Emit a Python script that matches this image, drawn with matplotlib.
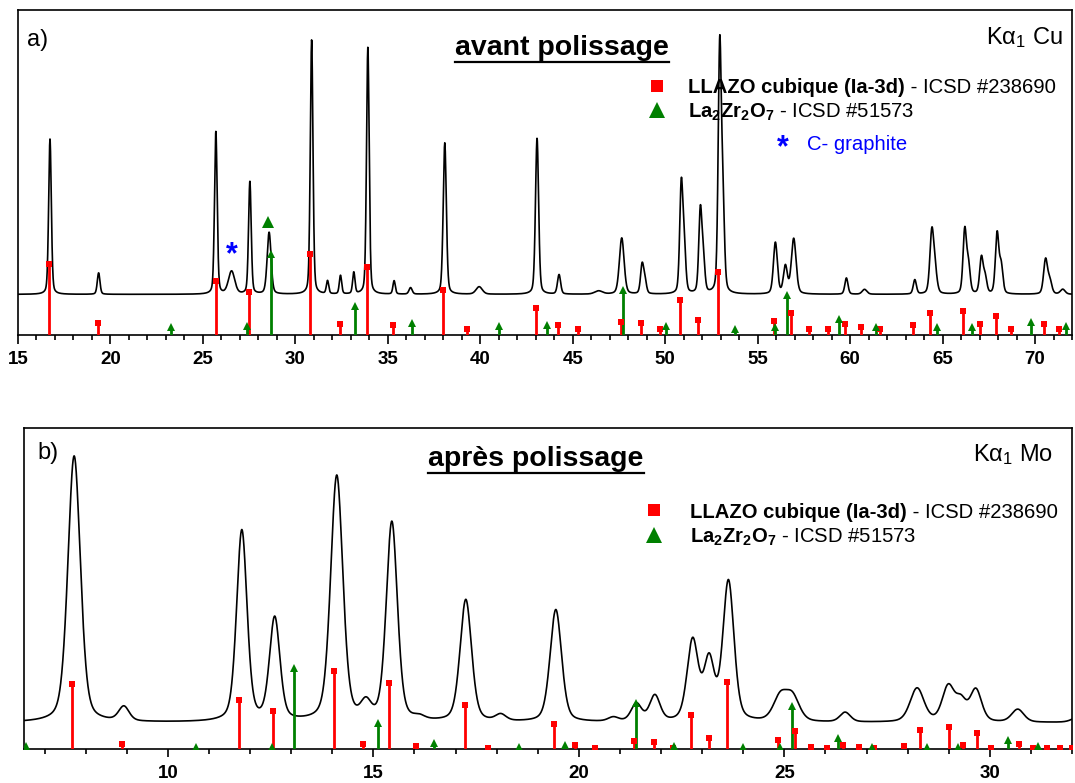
import numpy as np
import matplotlib
matplotlib.use("Agg")
import matplotlib.pyplot as plt
from matplotlib.lines import Line2D

plt.rcParams['font.family'] = ['Liberation Sans', 'DejaVu Sans']
plt.rcParams['mathtext.fontset'] = 'custom'
plt.rcParams['mathtext.rm'] = 'Liberation Sans'
plt.rcParams['mathtext.bf'] = 'Liberation Sans:bold'
plt.rcParams['mathtext.it'] = 'Liberation Sans:italic'

# ---------------- data : panel a (Cu K-alpha1) ----------------
a_baseline = 12.5
a_peak_pos = [16.73, 19.36, 25.70, 26.55, 27.54, 28.58, 30.88, 31.74, 32.44, 33.16,
              33.92, 35.34, 36.23, 38.08, 39.94, 43.07, 44.26, 46.4, 47.65, 48.75,
              48.9, 50.87, 51.03, 51.90, 52.06, 52.95, 53.12, 55.96, 56.5, 56.95,
              59.8, 60.78, 63.5, 64.42, 64.6, 66.2, 66.4, 67.1, 67.3, 67.95,
              68.17, 70.57, 70.8, 71.5]
a_peak_h = [47.8, 6.6, 50.0, 7.0, 34.6, 19.0, 78.3, 4.0, 5.7, 6.6,
            76.0, 4.1, 2.0, 46.6, 2.3, 48.0, 6.0, 1.0, 17.3, 8.7,
            4.0, 33.0, 13.0, 25.0, 10.0, 75.0, 26.0, 15.8, 8.4, 17.0,
            5.0, 1.5, 4.4, 19.0, 6.0, 19.5, 8.5, 11.0, 5.0, 18.5,
            8.5, 10.6, 4.0, 1.5]
a_peak_w = [0.17, 0.17, 0.17, 0.40, 0.17, 0.25, 0.17, 0.15, 0.15, 0.15,
            0.17, 0.15, 0.20, 0.20, 0.40, 0.20, 0.20, 0.50, 0.30, 0.20,
            0.20, 0.20, 0.20, 0.20, 0.20, 0.20, 0.20, 0.25, 0.25, 0.30,
            0.20, 0.30, 0.20, 0.25, 0.25, 0.22, 0.22, 0.22, 0.22, 0.22,
            0.22, 0.25, 0.25, 0.30]

a_llzo_pos = [16.7, 19.3, 25.7, 27.5, 30.8, 32.4, 33.85, 35.3, 38.0, 39.3,
              43.0, 44.2, 45.3, 47.6, 48.7, 49.7, 50.8, 51.8, 52.85, 55.9,
              56.8, 57.8, 58.8, 59.7, 60.6, 61.6, 63.4, 64.3, 66.1, 67.0,
              67.9, 68.7, 70.5, 71.3]
a_llzo_h = [22.0, 3.7, 16.6, 13.3, 25.0, 3.4, 21.0, 3.0, 14.0, 2.0,
            8.3, 3.0, 2.0, 4.0, 3.7, 2.0, 10.8, 4.6, 19.5, 4.3,
            6.7, 2.0, 2.0, 3.4, 2.4, 2.0, 3.0, 6.7, 7.4, 3.4,
            5.8, 2.0, 3.4, 2.0]
a_lzo_pos = [23.3, 27.4, 28.66, 33.2, 36.3, 41.0, 43.6, 47.7, 50.06, 53.8,
             55.96, 56.6, 59.4, 61.4, 64.7, 66.6, 69.8, 71.7]
a_lzo_h = [2.5, 2.8, 25.0, 8.9, 3.8, 2.8, 3.0, 13.8, 2.8, 2.0,
           2.4, 12.3, 4.9, 2.5, 2.4, 2.5, 4.0, 2.8]

# ---------------- data : panel b (Mo K-alpha1) ----------------
b_baseline = 8.2
b_peak_pos = [7.72, 8.93, 11.80, 12.60, 14.11, 14.82, 15.45, 16.12, 17.25, 18.10,
              19.44, 20.84, 21.40, 21.85, 22.77, 23.17, 23.64, 24.90, 25.20, 26.48,
              28.23, 28.99, 29.30, 29.66, 30.68, 32.2]
b_peak_h = [83.0, 4.5, 59.5, 32.0, 76.5, 5.0, 62.0, 1.0, 38.0, 2.0,
            35.0, 1.3, 5.5, 8.0, 25.0, 18.5, 43.5, 7.5, 7.5, 3.0,
            10.5, 11.0, 6.0, 10.0, 4.0, 2.0]
b_peak_w = [0.36, 0.30, 0.30, 0.30, 0.35, 0.30, 0.32, 0.30, 0.33, 0.30,
            0.33, 0.30, 0.30, 0.30, 0.32, 0.30, 0.32, 0.40, 0.40, 0.30,
            0.40, 0.35, 0.30, 0.33, 0.35, 0.40]

b_llzo_pos = [7.68, 8.88, 11.73, 12.56, 14.04, 14.74, 15.39, 16.03, 17.22, 17.78,
              19.4, 19.9, 20.4, 21.34, 21.82, 22.28, 22.73, 23.17, 23.6, 24.85,
              25.26, 25.66, 26.04, 26.42, 26.81, 27.18, 27.91, 28.29, 29.0, 29.35,
              29.7, 30.04, 30.72, 31.06, 31.38, 31.7, 31.99]
b_llzo_h = [20.2, 1.6, 15.3, 11.8, 24.4, 1.6, 20.5, 1.0, 13.7, 0.3,
            7.7, 1.1, 0.3, 2.6, 2.3, 0.3, 10.6, 3.3, 21.0, 2.8,
            5.7, 0.5, 0.4, 1.2, 0.6, 0.4, 0.9, 5.9, 6.7, 1.2,
            4.9, 0.4, 1.6, 0.4, 0.4, 0.3, 0.4]
b_lzo_pos = [6.55, 10.68, 12.53, 13.07, 15.12, 16.48, 18.54, 19.66, 21.4, 22.32,
             24.0, 24.9, 25.18, 26.31, 27.14, 28.46, 29.23, 30.45, 31.18]
b_lzo_h = [1.0, 0.7, 0.7, 25.3, 8.0, 2.0, 0.5, 1.2, 14.2, 0.8,
           0.6, 0.6, 13.4, 3.3, 0.6, 0.6, 0.6, 2.8, 0.8]

RED = '#ff0000'
GREEN = '#008000'
BLUE = '#0000ff'
LEG_FS = 14.6


def profile(x, pos, h, w, base, eta):
    y = np.full_like(x, base)
    for c, hh, ww in zip(pos, h, w):
        d = (x - c) / ww
        y += hh * (eta / (1 + 4 * d ** 2) + (1 - eta) * np.exp(-4 * np.log(2) * d ** 2))
    return y


fig = plt.figure(figsize=(10.75, 7.83), dpi=100)
W, H = 1075, 783


def axrect(l, t, r, b):
    return [l / W, 1 - b / H, (r - l) / W, (b - t) / H]


axA = fig.add_axes(axrect(18, 10, 1072, 335))
axB = fig.add_axes(axrect(24, 428, 1072, 749))


def style(ax, xmin, xmax, majlen):
    ax.set_xlim(xmin, xmax)
    ax.set_ylim(0, 100)
    ax.set_yticks([])
    for s in ax.spines.values():
        s.set_linewidth(1.2)
    ax.xaxis.set_major_locator(matplotlib.ticker.MultipleLocator(5))
    ax.xaxis.set_minor_locator(matplotlib.ticker.MultipleLocator(1))
    ax.tick_params(axis='x', which='major', direction='out', length=majlen, width=1.2,
                   pad=10 - majlen * 0.72, labelsize=13.5)
    ax.tick_params(axis='x', which='minor', direction='out', length=3.8, width=1.2)
    for lab in ax.get_xticklabels():
        lab.set_fontweight('bold')


def sticks(ax, pos, h, color, marker, ms):
    ax.vlines(pos, 0, h, colors=color, linewidth=2.0, zorder=3)
    ax.plot(pos, h, linestyle='none', marker=marker, color=color, ms=ms,
            markeredgewidth=0, zorder=4, clip_on=True)


# panel a
xa = np.linspace(15, 72, 6000)
axA.plot(xa, profile(xa, a_peak_pos, a_peak_h, a_peak_w, a_baseline, 0.3),
         color='black', lw=1.2, zorder=2)
style(axA, 15, 72, 6.5)
sticks(axA, a_llzo_pos, a_llzo_h, RED, 's', 4.5)
sticks(axA, a_lzo_pos, a_lzo_h, GREEN, '^', 5.5)
axA.plot([28.5], [34.8], marker='^', color=GREEN, ms=8, markeredgewidth=0, ls='none')
axA.text(26.55, 24.6, '*', color=BLUE, fontsize=22, fontweight='bold',
         ha='center', va='center')

# panel b
xb = np.linspace(6.5, 32, 6000)
axB.plot(xb, profile(xb, b_peak_pos, b_peak_h, b_peak_w, b_baseline, 0.35),
         color='black', lw=1.2, zorder=2)
style(axB, 6.5, 32, 5.5)
sticks(axB, b_llzo_pos, b_llzo_h, RED, 's', 4.5)
sticks(axB, b_lzo_pos, b_lzo_h, GREEN, '^', 5.5)


def fx(px):
    return px / W


def fy(py):
    return 1 - py / H


# labels
fig.text(fx(27), fy(40), 'a)', fontsize=17, va='center', ha='left')
fig.text(fx(37), fy(453), 'b)', fontsize=17, va='center', ha='left')
fig.text(fx(1063), fy(38), r'K$\mathrm{\alpha}_1$ Cu', fontsize=17, va='center', ha='right')
fig.text(fx(1053), fy(455), r'K$\mathrm{\alpha}_1$ Mo', fontsize=17, va='center', ha='right')

titles = []
titles.append(fig.text(fx(562), fy(55), 'avant polissage', fontsize=20.5,
                       fontweight='bold', ha='center', va='baseline'))
titles.append(fig.text(fx(536), fy(466), 'après polissage', fontsize=20.5,
                       fontweight='bold', ha='center', va='baseline'))

bold_parts = []


def add_leg(mx, ysq, ytri, tx, yb1, yb2):
    fig.lines.append(Line2D([fx(mx)], [fy(ysq)], marker='s', color=RED, ms=9,
                            markeredgewidth=0, transform=fig.transFigure))
    fig.lines.append(Line2D([fx(mx)], [fy(ytri)], marker='^', color=GREEN, ms=12,
                            markeredgewidth=0, transform=fig.transFigure))
    t1 = fig.text(fx(tx), fy(yb1), 'LLAZO cubique (Ia-3d)', fontsize=LEG_FS,
                  fontweight='bold', va='baseline', ha='left')
    bold_parts.append((t1, yb1))
    fig.text(fx(tx), fy(yb2), r'$\mathbf{La_2Zr_2O_7}$ - ICSD #51573', fontsize=LEG_FS,
             va='baseline', ha='left')


add_leg(657, 86, 110, 688, 93, 118)
add_leg(654, 510, 535, 690, 518, 543)
fig.text(fx(783), fy(148), '*', color=BLUE, fontsize=22, fontweight='bold',
         ha='center', va='center')
fig.text(fx(807), fy(145), 'C- graphite', color=BLUE, fontsize=LEG_FS,
         ha='left', va='center')

# underline titles and complete legend lines
fig.canvas.draw()
r = fig.canvas.get_renderer()
for t, ybase in zip(titles, [55, 466]):
    bb = t.get_window_extent(renderer=r)
    yl = fy(ybase + 7)
    fig.lines.append(Line2D([bb.x0 / W, bb.x1 / W], [yl, yl], color='black', lw=1.6,
                            transform=fig.transFigure))
for t1, yb in bold_parts:
    bb = t1.get_window_extent(renderer=r)
    fig.text(bb.x1 / W, fy(yb), ' - ICSD #238690', fontsize=LEG_FS,
             va='baseline', ha='left')

fig.savefig('out.png', dpi=100)
